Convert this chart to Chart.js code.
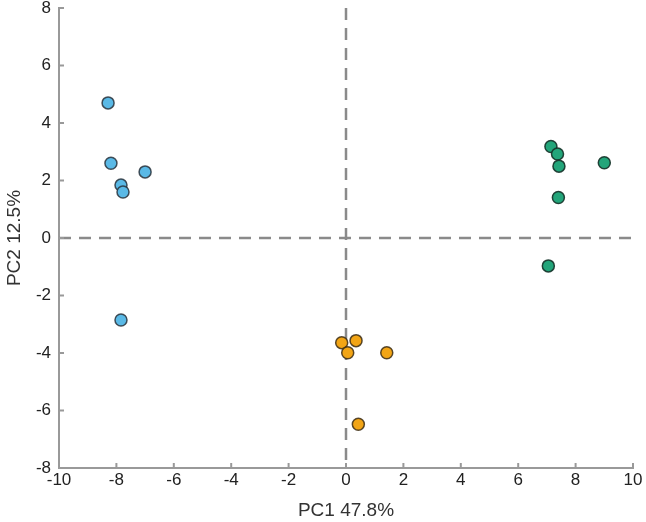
<!DOCTYPE html>
<html lang="en">
<head>
  <meta charset="UTF-8" />
  <title>PCA</title>
  <script src="https://cdn.jsdelivr.net/npm/chart.js"></script>
  <style>
    body { margin: 0; background: #fff; }
    .wrap { width: 646px; height: 522px; }
  </style>
</head>
<body>
  <div class="wrap"><canvas id="pca"></canvas></div>

  <script>
    // group values
    const blueX = [-8.29, -8.19, -7.0, -7.84, -7.77, -7.84];
    const blueY = [4.7, 2.6, 2.3, 1.84, 1.6, -2.85];
    const orangeX = [-0.15, 0.35, 0.06, 1.42, 0.43];
    const orangeY = [-3.64, -3.57, -3.99, -3.99, -6.48];
    const greenX = [7.14, 7.37, 7.42, 9.0, 7.4, 7.05];
    const greenY = [3.18, 2.92, 2.5, 2.62, 1.41, -0.97];
    const xTicks = [-10, -8, -6, -4, -2, 0, 2, 4, 6, 8, 10];
    const yTicks = [-8, -6, -4, -2, 0, 2, 4, 6, 8];

    const pts = (xs, ys) => xs.map((x, i) => ({ x: x, y: ys[i] }));

    const axisColor = '#999';

    // dashed zero lines + inward tick marks
    const extras = {
      id: 'extras',
      beforeDatasetsDraw(chart) {
        const { ctx, chartArea: a, scales: { x, y } } = chart;
        ctx.save();
        ctx.strokeStyle = '#8a8a8a';
        ctx.lineWidth = 2.5;
        ctx.setLineDash([12, 8]);
        const x0 = x.getPixelForValue(0);
        const y0 = y.getPixelForValue(0);
        ctx.beginPath();
        ctx.moveTo(x0, a.top);
        ctx.lineTo(x0, a.bottom);
        ctx.moveTo(a.left, y0);
        ctx.lineTo(a.right, y0);
        ctx.stroke();

        ctx.setLineDash([]);
        ctx.strokeStyle = axisColor;
        ctx.lineWidth = 2;
        ctx.beginPath();
        xTicks.forEach(v => {
          const px = x.getPixelForValue(v);
          ctx.moveTo(px, a.bottom);
          ctx.lineTo(px, a.bottom - 5);
        });
        yTicks.forEach(v => {
          const py = y.getPixelForValue(v);
          ctx.moveTo(a.left, py);
          ctx.lineTo(a.left + 5, py);
        });
        ctx.stroke();
        ctx.restore();
      }
    };

    const font = { family: 'Liberation Sans, Arial, sans-serif', size: 17 };
    const titleFont = { family: 'Liberation Sans, Arial, sans-serif', size: 19 };

    new Chart(document.getElementById('pca'), {
      type: 'scatter',
      data: {
        datasets: [
          {
            label: 'A',
            data: pts(blueX, blueY),
            backgroundColor: '#5ab9e6',
            borderColor: 'rgba(40,50,60,0.85)',
            borderWidth: 1.5,
            pointRadius: 6
          },
          {
            label: 'B',
            data: pts(orangeX, orangeY),
            backgroundColor: '#f2a516',
            borderColor: 'rgba(60,45,20,0.85)',
            borderWidth: 1.5,
            pointRadius: 6
          },
          {
            label: 'C',
            data: pts(greenX, greenY),
            backgroundColor: '#23a57a',
            borderColor: 'rgba(20,50,40,0.9)',
            borderWidth: 1.5,
            pointRadius: 6
          }
        ]
      },
      options: {
        responsive: true,
        maintainAspectRatio: false,
        animation: false,
        layout: { padding: { top: 8, right: 13, left: 0, bottom: 0 } },
        plugins: {
          legend: { display: false },
          tooltip: { enabled: false }
        },
        scales: {
          x: {
            type: 'linear',
            min: -10,
            max: 10,
            afterBuildTicks: s => { s.ticks = xTicks.map(v => ({ value: v })); },
            afterFit: s => { s.height = 54; },
            grid: { display: false, drawTicks: false },
            border: { color: axisColor, width: 2 },
            ticks: { color: '#222', font: font, padding: 2, maxRotation: 0 },
            title: { display: true, text: 'PC1 47.8%', color: '#333', font: titleFont, padding: { top: 2, bottom: 0 } }
          },
          y: {
            type: 'linear',
            min: -8,
            max: 8,
            afterBuildTicks: s => { s.ticks = yTicks.map(v => ({ value: v })); },
            afterFit: s => { s.width = 59; s.paddingTop = 0; s.paddingBottom = 0; },
            grid: { display: false, drawTicks: false },
            border: { color: axisColor, width: 2 },
            ticks: { color: '#222', font: font, padding: 8 },
            title: { display: true, text: 'PC2 12.5%', color: '#333', font: titleFont, padding: { top: 3, bottom: 0 } }
          }
        }
      },
      plugins: [extras]
    });
  </script>
</body>
</html>
